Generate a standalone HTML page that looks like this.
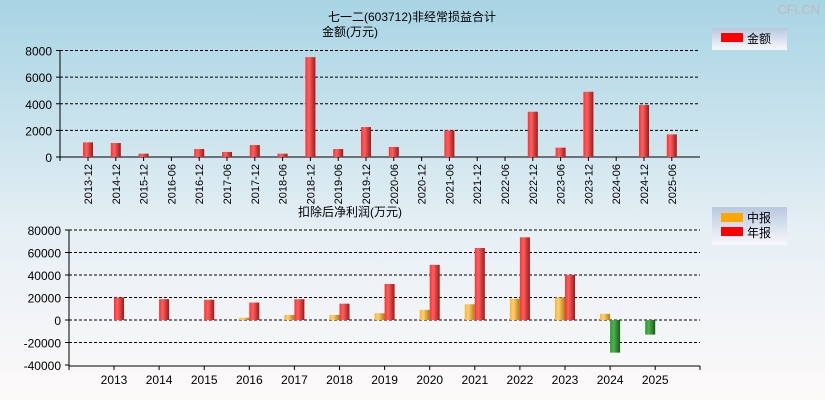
<!DOCTYPE html>
<html><head><meta charset="utf-8"><style>
body{margin:0;width:825px;height:400px;overflow:hidden;font-family:"Liberation Sans","Noto Sans CJK SC",sans-serif}
svg text{font-family:"Liberation Sans","Noto Sans CJK SC",sans-serif}
</style></head><body>
<svg id="c" width="825" height="400" xmlns="http://www.w3.org/2000/svg">
<defs>
<linearGradient id="bg" x1="0" y1="0" x2="0" y2="1"><stop offset="0" stop-color="#a8d4e4"/><stop offset="0.6" stop-color="#e8f0f5"/><stop offset="1" stop-color="#fdf9f9"/></linearGradient>
<linearGradient id="gr" x1="0" y1="0" x2="1" y2="0"><stop offset="0" stop-color="#ff3030"/><stop offset="0.35" stop-color="#ff6060"/><stop offset="1" stop-color="#a01818"/></linearGradient>
<linearGradient id="go" x1="0" y1="0" x2="1" y2="0"><stop offset="0" stop-color="#ffb030"/><stop offset="0.35" stop-color="#ffd070"/><stop offset="1" stop-color="#b07818"/></linearGradient>
<linearGradient id="gg" x1="0" y1="0" x2="1" y2="0"><stop offset="0" stop-color="#2a9a2a"/><stop offset="0.35" stop-color="#50b050"/><stop offset="1" stop-color="#1a5a1a"/></linearGradient>
<linearGradient id="lg" x1="0" y1="0" x2="0" y2="1"><stop offset="0" stop-color="#b8c8e0"/><stop offset="1" stop-color="#f8f8fc"/></linearGradient>
</defs>
<rect width="825" height="400" fill="url(#bg)"/>
<text x="412" y="21" font-size="12" text-anchor="middle">七一二(603712)非经常损益合计</text>
<text x="350" y="36" font-size="12" text-anchor="middle">金额(万元)</text>
<text x="820" y="14" font-size="13" fill="#bbb" text-anchor="end">CFi.CN</text>
<text x="350" y="216" font-size="12" text-anchor="middle">扣除后净利润(万元)</text>
<g><rect x="712" y="28" width="75" height="22" fill="url(#lg)"/><rect x="721" y="33" width="22" height="9" fill="#f00"/><text x="747" y="43" font-size="12">金额</text></g>
<g><rect x="712" y="207" width="75" height="38" fill="url(#lg)"/><rect x="721" y="213" width="22" height="9" fill="#ffa500"/><text x="747" y="222" font-size="12">中报</text><rect x="721" y="227" width="22" height="9" fill="#f00"/><text x="747" y="237" font-size="12">年报</text></g>
<g id="top"></g><g id="bot"></g>
</svg>
<script>
const topCats=["2013-12","2014-12","2015-12","2016-06","2016-12","2017-06","2017-12","2018-06","2018-12","2019-06","2019-12","2020-06","2020-12","2021-06","2021-12","2022-06","2022-12","2023-06","2023-12","2024-06","2024-12","2025-06"];
const topVals=[1100,1050,250,0,600,380,900,250,7500,600,2250,750,0,2000,0,0,3400,700,4900,0,3900,1700];
const topTicks=[0,2000,4000,6000,8000];
const years=["2013","2014","2015","2016","2017","2018","2019","2020","2021","2022","2023","2024","2025"];
const midVals=[0,0,0,2000,4500,4500,6000,9000,14000,19000,20000,5500,-13000];
const annVals=[20000,18500,18000,15500,18500,14500,32000,49000,64000,73500,40000,-29000,null];
const botTicks=[-40000,-20000,0,20000,40000,60000,80000];
const NS="http://www.w3.org/2000/svg";
function mk(p,t,a){const e=document.createElementNS(NS,t);for(const k in a)e.setAttribute(k,a[k]);p.appendChild(e);return e;}
// top chart
const T=document.getElementById('top');
const ty=v=>157-v*(106.5/8000), tx=i=>88+i*27.8;
topTicks.forEach(v=>{
 if(v>0){const l=mk(T,'line',{x1:60,x2:700,y1:ty(v),y2:ty(v),stroke:'#000','stroke-dasharray':'3,2'});}
 mk(T,'line',{x1:56,x2:60,y1:ty(v),y2:ty(v),stroke:'#000'});
 const t=mk(T,'text',{x:52,y:ty(v)+5,'font-size':12,'text-anchor':'end'});t.textContent=v;
 
});
mk(T,'line',{x1:60,x2:60,y1:50,y2:161,stroke:'#000'});
mk(T,'line',{x1:60,x2:700,y1:157,y2:157,stroke:'#000'});
topCats.forEach((c,i)=>{
 const v=topVals[i];
 if(v>0){const r=mk(T,'rect',{x:tx(i)-5,y:ty(v),width:10,height:157-ty(v),fill:'url(#gr)'});
 }
 mk(T,'line',{x1:tx(i),x2:tx(i),y1:157,y2:161,stroke:'#000'});
 const t=mk(T,'text',{x:0,y:0,'font-size':11,'text-anchor':'end',transform:`translate(${tx(i)+4},164) rotate(-90)`});t.textContent=c;
 
});
// bottom chart
const B=document.getElementById('bot');
const by=v=>320-v*(90/80000), bx=i=>114+i*45.1;
botTicks.forEach(v=>{
 if(v!==-40000){const l=mk(B,'line',{x1:69,x2:700,y1:by(v),y2:by(v),stroke:'#000','stroke-dasharray':'3,2'});}
 mk(B,'line',{x1:65,x2:69,y1:by(v),y2:by(v),stroke:'#000'});
 const t=mk(B,'text',{x:61,y:by(v)+5,'font-size':12,'text-anchor':'end'});t.textContent=v;
 
});
mk(B,'line',{x1:69,x2:69,y1:230,y2:370,stroke:'#000'});
mk(B,'line',{x1:69,x2:700,y1:366,y2:366,stroke:'#000'});
mk(B,'line',{x1:700,x2:700,y1:366,y2:370,stroke:'#000'});
function bar(x,v,fill,name){
 if(v===null||v===0)return;
 const y0=Math.min(by(v),by(0)),h=Math.abs(by(v)-by(0));
 const r=mk(B,'rect',{x:x,y:y0,width:10,height:h,fill:v<0?'url(#gg)':fill});
 
}
years.forEach((y,i)=>{
 bar(bx(i)-10,midVals[i],'url(#go)','mid-report-bar');
 bar(bx(i),annVals[i],'url(#gr)','annual-report-bar');
 mk(B,'line',{x1:bx(i),x2:bx(i),y1:366,y2:370,stroke:'#000'});
 const t=mk(B,'text',{x:bx(i),y:384,'font-size':12,'text-anchor':'middle'});t.textContent=y;
 
});
</script>
</body></html>
